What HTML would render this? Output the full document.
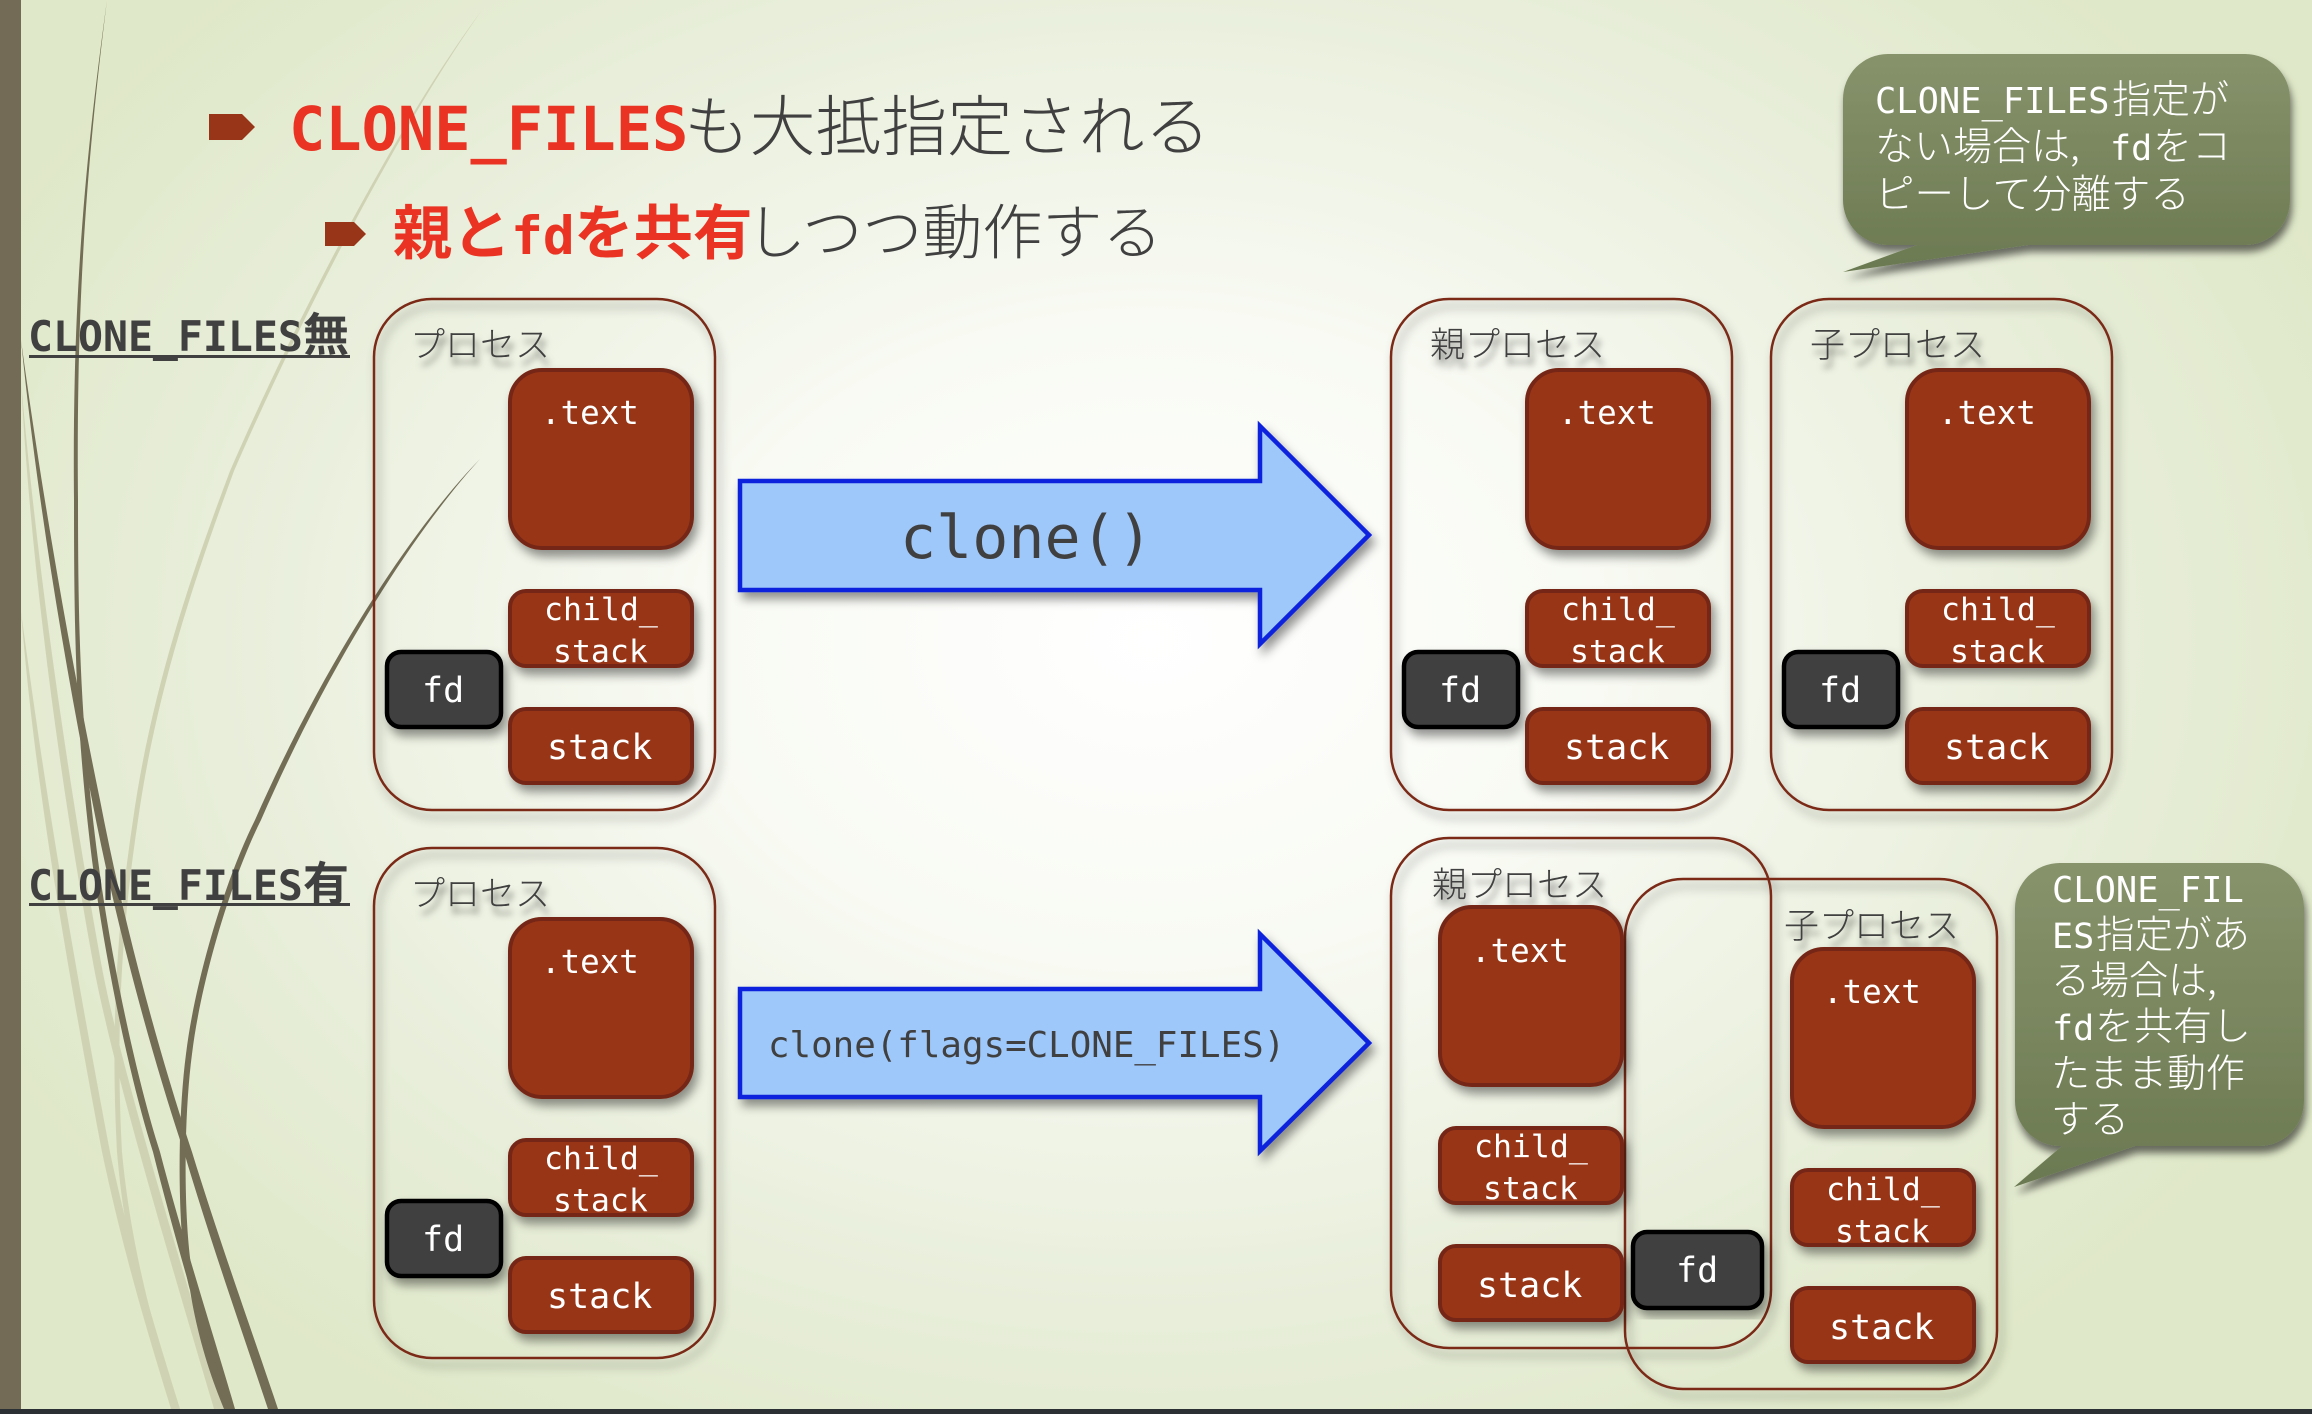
<!DOCTYPE html>
<html lang="ja"><head><meta charset="utf-8"><title>CLONE_FILES</title>
<style>
html,body{margin:0;padding:0;width:2312px;height:1414px;overflow:hidden;background:#eef3e2}
svg{display:block}
.m{font-family:"DejaVu Sans Mono","Liberation Mono",monospace}
.j{font-family:"Noto Sans CJK JP","IPAGothic",sans-serif}
.w{fill:#fff}
.t{font-size:32.5px}.c{font-size:31.5px}.s{font-size:35px}.f{font-size:35px}
.b{fill:#983519;stroke:#752612;stroke-width:4}
.p{fill:none;stroke:#7a2a18;stroke-width:2.5}
.d{fill:#404040;stroke:#000;stroke-width:4.5}
.l{font-size:35px;fill:#404040;font-weight:300;font-family:"Noto Sans CJK JP","IPAGothic",sans-serif}
</style></head><body>
<svg width="2312" height="1414" viewBox="0 0 2312 1414" xmlns="http://www.w3.org/2000/svg">
<defs>
<radialGradient id="bg" gradientUnits="userSpaceOnUse" cx="1150" cy="640" r="1300" gradientTransform="translate(1150 640) scale(1 .72) translate(-1150 -640)">
<stop offset="0" stop-color="#ffffff"/><stop offset=".35" stop-color="#f8faf3"/><stop offset=".72" stop-color="#e8eeda"/><stop offset="1" stop-color="#dfe8c8"/>
</radialGradient>
<linearGradient id="bub" x1="0" y1="0" x2="0" y2="1"><stop offset="0" stop-color="#87936b"/><stop offset="1" stop-color="#6b7951"/></linearGradient>
<filter id="sh" x="-15%" y="-15%" width="130%" height="130%"><feDropShadow dx="4" dy="7" stdDeviation="5" flood-color="#000" flood-opacity=".42"/></filter>
<filter id="sb" x="-15%" y="-15%" width="130%" height="130%"><feDropShadow dx="2" dy="7" stdDeviation="4" flood-color="#000" flood-opacity=".55"/></filter>
<filter id="ts" x="-15%" y="-30%" width="130%" height="170%"><feDropShadow dx="3" dy="8" stdDeviation="3.5" flood-color="#000" flood-opacity=".55"/></filter>
</defs>
<rect width="2312" height="1414" fill="url(#bg)"/>
<!-- grass -->
<g stroke="none">
<path fill="#cfd3b4" d="M482 10C400 120 300 310 230 471C185 590 150 700 133 820C118 920 110 1020 117 1152C125 1250 150 1340 173 1409L180 1409C156 1340 131 1250 122 1152C115 1020 123 920 138 820C155 700 190 590 234 471C304 310 404 120 482 10Z"/>
<path fill="#cfd3b4" d="M21 612C30 720 45 850 102 1152C125 1260 150 1340 171 1409L180 1409C159 1340 133 1260 110 1152C53 850 36 720 21 612Z"/>
<path fill="#cfd3b4" d="M21 380C30 560 60 780 92 957C110 1060 170 1260 214 1409L224 1409C180 1260 118 1060 100 957C68 780 36 560 21 380Z"/>
<path fill="#736d55" d="M107 0C85 160 72 300 74 500C74 640 76 730 92 860C105 960 130 1080 153 1152C175 1240 205 1340 225 1409L235 1409C215 1340 183 1240 160 1152C137 1080 111 960 98 860C81 730 78 640 78 500C76 300 87 160 107 0Z"/>
<path fill="#736d55" d="M21 340C35 480 60 640 92 800C115 920 150 1050 184 1152C210 1240 245 1340 268 1409L278 1409C255 1340 219 1240 192 1152C158 1050 123 920 100 800C67 640 40 480 21 340Z"/>
<path fill="#736d55" d="M480 459C420 520 330 650 255 820C225 880 195 980 186 1054C176 1130 178 1250 190 1290C198 1340 212 1380 224 1409L233 1409C221 1380 206 1340 196 1290C184 1250 182 1130 192 1054C201 980 231 880 261 820C335 650 424 520 480 459Z"/>
</g>
<rect x="0" y="0" width="21" height="1414" fill="#736b56"/>
<rect x="0" y="1409" width="2312" height="5" fill="#2b3035"/>

<!-- title -->
<polygon points="209,114 242,114 255,127 242,140 209,140" fill="#983519"/>
<polygon points="325,222 354,222 366,234 354,246 325,246" fill="#983519"/>
<text x="289" y="150" class="m" font-size="60.3" font-weight="700" fill="#ea3323">CLONE_FILES</text>
<text x="684" y="150" class="j" font-size="65.8" font-weight="300" fill="#404040">も大抵指定される</text>
<text x="393" y="254" class="j" font-size="59" font-weight="700" fill="#ea3323">親と</text>
<text x="511" y="254" class="m" font-size="53" font-weight="700" fill="#ea3323">fd</text>
<text x="574" y="254" class="j" font-size="59.5" font-weight="700" fill="#ea3323">を共有</text>
<text x="746" y="254" class="j" font-size="60" font-weight="300" fill="#404040">しつつ動作する</text>

<!-- row labels -->
<text x="28" y="351" class="m" font-size="41.5" font-weight="700" fill="#404040">CLONE_FILES</text>
<text x="303" y="351" class="j" font-size="46" font-weight="700" fill="#404040">無</text>
<rect x="29" y="355" width="321" height="3" fill="#404040"/>
<text x="28" y="900" class="m" font-size="41.5" font-weight="700" fill="#404040">CLONE_FILES</text>
<text x="303" y="900" class="j" font-size="46" font-weight="700" fill="#404040">有</text>
<rect x="29" y="903" width="321" height="3" fill="#404040"/>

<!-- process outlines -->
<g filter="url(#sh)">
<rect class="p" x="374" y="299" width="341" height="511" rx="58"/>
<rect class="p" x="1391" y="299" width="341" height="511" rx="58"/>
<rect class="p" x="1771" y="299" width="341" height="511" rx="58"/>
<rect class="p" x="374" y="848" width="341" height="510" rx="58"/>
<rect class="p" x="1391" y="838" width="380" height="510" rx="58"/>
<rect class="p" x="1625" y="879" width="372" height="510" rx="58"/>
</g>

<!-- process labels -->
<g filter="url(#ts)">
<text class="l" x="410" y="357" >プロセス</text>
<text class="l" x="1430" y="357">親プロセス</text>
<text class="l" x="1810" y="357">子プロセス</text>
<text class="l" x="410" y="906">プロセス</text>
<text class="l" x="1432" y="897">親プロセス</text>
<text class="l" x="1784" y="938">子プロセス</text>
</g>

<!-- set 1 -->
<g filter="url(#sh)">
<rect class="b" x="510" y="370" width="182" height="178" rx="32"/>
<rect class="b" x="510" y="591" width="182" height="75" rx="16"/>
<rect class="b" x="510" y="709" width="182" height="74" rx="16"/>
<rect class="d" x="387" y="652" width="114" height="75" rx="14"/>
</g>
<g class="m w">
<text class="t" x="541" y="424">.text</text><text class="c" x="544" y="620">child_</text><text class="c" x="553" y="662">stack</text><text class="s" x="547" y="759">stack</text><text class="f" x="422" y="702">fd</text>
</g>
<!-- set 2 -->
<g transform="translate(1017 0)">
<g filter="url(#sh)">
<rect class="b" x="510" y="370" width="182" height="178" rx="32"/>
<rect class="b" x="510" y="591" width="182" height="75" rx="16"/>
<rect class="b" x="510" y="709" width="182" height="74" rx="16"/>
<rect class="d" x="387" y="652" width="114" height="75" rx="14"/>
</g>
<g class="m w">
<text class="t" x="541" y="424">.text</text><text class="c" x="544" y="620">child_</text><text class="c" x="553" y="662">stack</text><text class="s" x="547" y="759">stack</text><text class="f" x="422" y="702">fd</text>
</g></g>
<!-- set 3 -->
<g transform="translate(1397 0)">
<g filter="url(#sh)">
<rect class="b" x="510" y="370" width="182" height="178" rx="32"/>
<rect class="b" x="510" y="591" width="182" height="75" rx="16"/>
<rect class="b" x="510" y="709" width="182" height="74" rx="16"/>
<rect class="d" x="387" y="652" width="114" height="75" rx="14"/>
</g>
<g class="m w">
<text class="t" x="541" y="424">.text</text><text class="c" x="544" y="620">child_</text><text class="c" x="553" y="662">stack</text><text class="s" x="547" y="759">stack</text><text class="f" x="422" y="702">fd</text>
</g></g>
<!-- set 4 -->
<g transform="translate(0 549)">
<g filter="url(#sh)">
<rect class="b" x="510" y="370" width="182" height="178" rx="32"/>
<rect class="b" x="510" y="591" width="182" height="75" rx="16"/>
<rect class="b" x="510" y="709" width="182" height="74" rx="16"/>
<rect class="d" x="387" y="652" width="114" height="75" rx="14"/>
</g>
<g class="m w">
<text class="t" x="541" y="424">.text</text><text class="c" x="544" y="620">child_</text><text class="c" x="553" y="662">stack</text><text class="s" x="547" y="759">stack</text><text class="f" x="422" y="702">fd</text>
</g></g>
<!-- set 5 parent -->
<g transform="translate(930 537)">
<g filter="url(#sh)">
<rect class="b" x="510" y="370" width="182" height="178" rx="32"/>
<rect class="b" x="510" y="591" width="182" height="75" rx="16"/>
<rect class="b" x="510" y="709" width="182" height="74" rx="16"/>
</g>
<g class="m w">
<text class="t" x="541" y="425">.text</text><text class="c" x="544" y="620">child_</text><text class="c" x="553" y="662">stack</text><text class="s" x="547" y="760">stack</text>
</g></g>
<!-- set 6 child -->
<g transform="translate(1282 579)">
<g filter="url(#sh)">
<rect class="b" x="510" y="370" width="182" height="178" rx="32"/>
<rect class="b" x="510" y="591" width="182" height="75" rx="16"/>
<rect class="b" x="510" y="709" width="182" height="74" rx="16"/>
</g>
<g class="m w">
<text class="t" x="541" y="424">.text</text><text class="c" x="544" y="621">child_</text><text class="c" x="553" y="663">stack</text><text class="s" x="547" y="760">stack</text>
</g></g>
<!-- shared fd -->
<rect class="d" x="1633" y="1232" width="129" height="76" rx="14" filter="url(#sh)"/>
<text class="m w f" x="1676" y="1282">fd</text>

<!-- arrows -->
<polygon filter="url(#sh)" points="740,481 1260,481 1260,426 1369,535 1260,644 1260,590 740,590" fill="#9fc8fa" stroke="#0a22dc" stroke-width="4.5"/>
<polygon filter="url(#sh)" points="740,989 1260,989 1260,934 1369,1043 1260,1151 1260,1097 740,1097" fill="#9fc8fa" stroke="#0a22dc" stroke-width="4.5"/>
<text class="m" x="900" y="558" font-size="60" fill="#404040">clone()</text>
<text class="m" x="768" y="1057" font-size="35.8" fill="#404040">clone(flags=CLONE_FILES)</text>

<!-- callouts -->
<path filter="url(#sb)" fill="url(#bub)" d="M1888 54H2245A45 45 0 0 1 2290 99V200A45 45 0 0 1 2245 245H2028L1843 272L1917 245H1888A45 45 0 0 1 1843 200V99A45 45 0 0 1 1888 54Z"/>
<g class="w">
<text class="m" x="1875" y="113" font-size="35.4">CLONE_FILES</text><text class="j" x="2112" y="113" font-size="39" font-weight="300">指定が</text>
<text class="j" x="1875" y="160" font-size="39" font-weight="300">ない場合は,</text><text class="m" x="2110" y="160" font-size="35">fd</text><text class="j" x="2153" y="160" font-size="39" font-weight="300">をコ</text>
<text class="j" x="1875" y="208" font-size="39.5" font-weight="300">ピーして分離する</text>
</g>
<path filter="url(#sb)" fill="url(#bub)" d="M2060 863H2259A45 45 0 0 1 2304 908V1101A45 45 0 0 1 2259 1146H2135L2014 1187L2062 1146H2060A45 45 0 0 1 2015 1101V908A45 45 0 0 1 2060 863Z"/>
<g class="w">
<text class="m" x="2052" y="902" font-size="35.4">CLONE_FIL</text>
<text class="m" x="2052" y="948" font-size="35">ES</text><text class="j" x="2096" y="948" font-size="38.5" font-weight="300">指定があ</text>
<text class="j" x="2051" y="994" font-size="39" font-weight="300">る場合は,</text>
<text class="m" x="2052" y="1040" font-size="35">fd</text><text class="j" x="2095" y="1040" font-size="39" font-weight="300">を共有し</text>
<text class="j" x="2051" y="1087" font-size="39" font-weight="300">たまま動作</text>
<text class="j" x="2051" y="1133" font-size="39" font-weight="300">する</text>
</g>
</svg>
</body></html>
